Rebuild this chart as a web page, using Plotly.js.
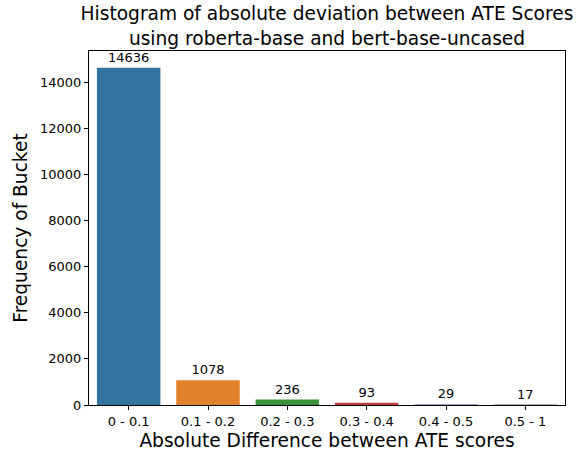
<!DOCTYPE html>
<html>
<head>
<meta charset="utf-8">
<script src="https://cdn.plot.ly/plotly-3.0.1.min.js"></script>
<style>html,body{margin:0;padding:0;background:#fff;}#chart{width:582px;height:453px;}</style>
</head>
<body>
<div id="chart"></div>
<script>
const buckets = ["0 - 0.1", "0.1 - 0.2", "0.2 - 0.3", "0.3 - 0.4", "0.4 - 0.5", "0.5 - 1"];
const counts = [14636, 1078, 236, 93, 29, 17];
const barColors = ["#3274a1", "#e1812c", "#3a923a", "#c03d3e", "#9372b2", "#845b53"];
const yTicks = [0, 2000, 4000, 6000, 8000, 10000, 12000, 14000];

const fontFam = "DejaVu Sans, sans-serif";
const trace = {
  type: "bar",
  x: buckets,
  y: counts,
  marker: {color: barColors, line: {width: 0}},
  text: counts.map(String),
  textposition: "outside",
  textfont: {family: fontFam, size: 13, color: "#000"},
  cliponaxis: false,
  hoverinfo: "x+y"
};
const layout = {
  width: 582, height: 453,
  margin: {l: 89, r: 17, t: 51, b: 48, pad: 0},
  paper_bgcolor: "#fff", plot_bgcolor: "#fff",
  font: {family: fontFam, size: 13, color: "#000"},
  bargap: 0.2,
  showlegend: false,
  title: {
    text: "Histogram of absolute deviation between ATE Scores<br>using roberta-base and bert-base-uncased",
    font: {family: fontFam, size: 18.6, color: "#000"},
    x: 0.5, xref: "paper", xanchor: "center",
    y: 0.955, yref: "container", yanchor: "top"
  },
  xaxis: {
    type: "category",
    range: [-0.5, 5.5],
    showgrid: false, zeroline: false,
    showline: true, linecolor: "#000", linewidth: 1, mirror: true,
    ticks: "outside", ticklen: 4, tickwidth: 1, tickcolor: "#000",
    tickfont: {family: fontFam, size: 13, color: "#000"},
    title: {text: "Absolute Difference between ATE scores", font: {family: fontFam, size: 18.6, color: "#000"}, standoff: 6}
  },
  yaxis: {
    range: [0, 15367.8],
    tickvals: yTicks,
    ticktext: yTicks.map(String),
    showgrid: false, zeroline: false,
    showline: true, linecolor: "#000", linewidth: 1, mirror: true,
    ticks: "outside", ticklen: 4, tickwidth: 1, tickcolor: "#000",
    tickfont: {family: fontFam, size: 13, color: "#000"},
    title: {text: "Frequency of Bucket", font: {family: fontFam, size: 18.6, color: "#000"}, standoff: 7}
  }
};
Plotly.newPlot("chart", [trace], layout, {displayModeBar: false, staticPlot: true});
</script>
</body>
</html>
